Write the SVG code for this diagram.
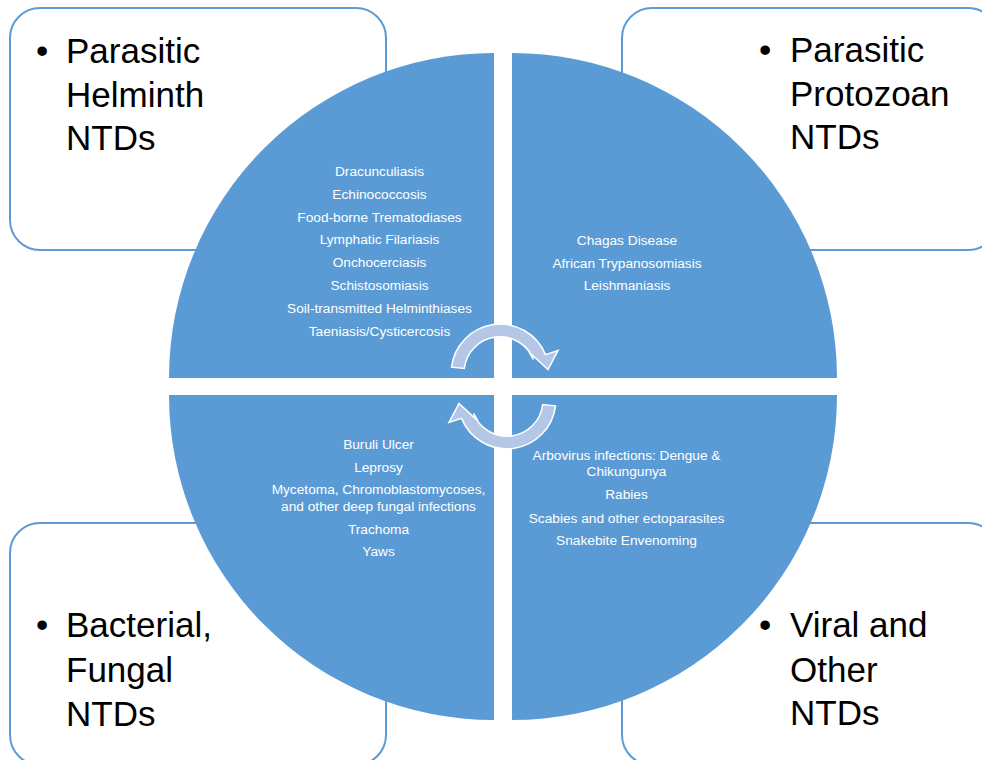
<svg xmlns="http://www.w3.org/2000/svg" width="982" height="760" viewBox="0 0 982 760">
<style>
.box{fill:#ffffff;stroke:#5b9bd5;stroke-width:2}
.quad{fill:#5b9bd5}
.big{font-family:"Liberation Sans",Arial,sans-serif;font-size:35px;fill:#000000}
.small{font-family:"Liberation Sans",Arial,sans-serif;font-size:13.7px;fill:#ffffff;text-anchor:middle}
.arr{fill:#b4c7e7;stroke:#ffffff;stroke-width:1.5;stroke-linejoin:miter}
</style>
<rect width="982" height="760" fill="#ffffff"/>
<g id="box-helminth">
<rect class="box" x="10" y="8" width="376" height="242" rx="30"/>
<text class="big" x="36" y="63">•</text>
<text class="big" x="66" y="63">Parasitic</text>
<text class="big" x="66" y="106.5">Helminth</text>
<text class="big" x="66" y="150">NTDs</text>
</g>
<g id="box-protozoan">
<rect class="box" x="622" y="8" width="376" height="242" rx="30"/>
<text class="big" x="759" y="62">•</text>
<text class="big" x="790" y="62">Parasitic</text>
<text class="big" x="790" y="106">Protozoan</text>
<text class="big" x="790" y="149">NTDs</text>
</g>
<g id="box-bacterial">
<rect class="box" x="10" y="523" width="376" height="242" rx="30"/>
<text class="big" x="36" y="637">•</text>
<text class="big" x="66" y="637">Bacterial,</text>
<text class="big" x="66" y="681.5">Fungal</text>
<text class="big" x="66" y="725.5">NTDs</text>
</g>
<g id="box-viral">
<rect class="box" x="622" y="523" width="376" height="242" rx="30"/>
<text class="big" x="759" y="637">•</text>
<text class="big" x="790" y="637">Viral and</text>
<text class="big" x="790" y="681.5">Other</text>
<text class="big" x="790" y="725">NTDs</text>
</g>
<g id="quad-helminth">
<path class="quad" d="M494,378 H169 A325,325 0 0 1 494,53 Z"/>
<text class="small" x="379.5" y="176">Dracunculiasis</text>
<text class="small" x="379.5" y="198.8">Echinococcosis</text>
<text class="small" x="379.5" y="221.6">Food-borne Trematodiases</text>
<text class="small" x="379.5" y="244.4">Lymphatic Filariasis</text>
<text class="small" x="379.5" y="267.2">Onchocerciasis</text>
<text class="small" x="379.5" y="290">Schistosomiasis</text>
<text class="small" x="379.5" y="312.8">Soil-transmitted Helminthiases</text>
<text class="small" x="379.5" y="335.6">Taeniasis/Cysticercosis</text>
</g>
<g id="quad-protozoan">
<path class="quad" d="M512,378 V53 A325,325 0 0 1 837,378 Z"/>
<text class="small" x="627" y="245">Chagas Disease</text>
<text class="small" x="627" y="267.5">African Trypanosomiasis</text>
<text class="small" x="627" y="290">Leishmaniasis</text>
</g>
<g id="quad-bacterial">
<path class="quad" d="M494,395 H169 A325,325 0 0 0 494,720 Z"/>
<text class="small" x="378.5" y="449">Buruli Ulcer</text>
<text class="small" x="378.5" y="471.5">Leprosy</text>
<text class="small" x="378.5" y="494.3">Mycetoma, Chromoblastomycoses,</text>
<text class="small" x="378.5" y="511">and other deep fungal infections</text>
<text class="small" x="378.5" y="533.5">Trachoma</text>
<text class="small" x="378.5" y="556">Yaws</text>
</g>
<g id="quad-viral">
<path class="quad" d="M512,395 V720 A325,325 0 0 0 837,395 Z"/>
<text class="small" x="626.5" y="460">Arbovirus infections: Dengue &amp;</text>
<text class="small" x="626.5" y="476">Chikungunya</text>
<text class="small" x="626.5" y="499.3">Rabies</text>
<text class="small" x="626.5" y="522.7">Scabies and other ectoparasites</text>
<text class="small" x="626.5" y="545">Snakebite Envenoming</text>
</g>
<g id="connectors">
<path id="arrow-top" class="arr" d="M451.5,367.2 A49,49 0 0 1 545.5,354.6 L558,350.5 L548,369.5 L529,352 L533.5,359.5 A36,36 0 0 0 464.3,368.5 Z"/>
<path id="arrow-bottom" class="arr" transform="rotate(180 503.5 386.5)" d="M451.5,367.2 A49,49 0 0 1 545.5,354.6 L558,350.5 L548,369.5 L529,352 L533.5,359.5 A36,36 0 0 0 464.3,368.5 Z"/>
</g>
</svg>
